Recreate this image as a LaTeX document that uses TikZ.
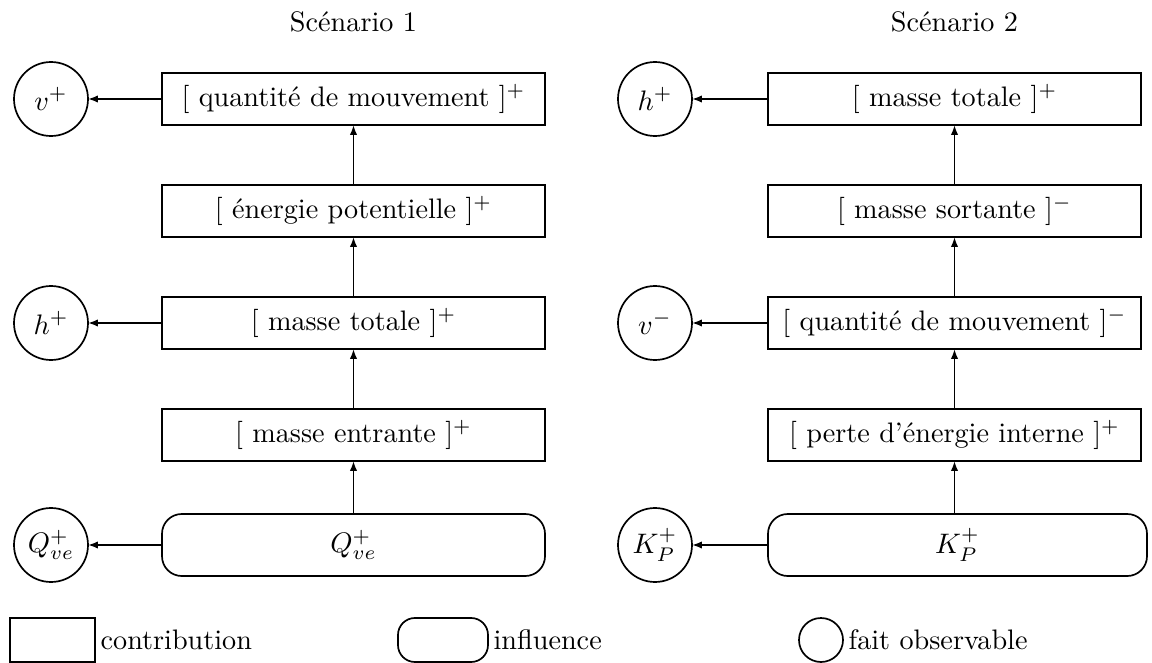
\documentclass[tikz,border=0pt]{standalone}
\usetikzlibrary{arrows.meta}
\begin{document}
\begin{tikzpicture}[x=0.3545pt,y=-0.3545pt,
  every node/.style={font=\normalsize,outer sep=0pt,inner sep=0pt},
  lbox/.style={draw,line width=0.6pt,minimum width={383*0.3545pt},minimum height={52*0.3545pt}},
  rbox/.style={draw,line width=0.6pt,minimum width={373*0.3545pt},minimum height={52*0.3545pt}},
  lround/.style={draw,line width=0.6pt,rounded corners=7pt,minimum width={383*0.3545pt},minimum height={62*0.3545pt}},
  rround/.style={draw,line width=0.6pt,rounded corners=7pt,minimum width={379*0.3545pt},minimum height={62*0.3545pt}},
  fact/.style={draw,circle,line width=0.6pt,minimum size={74*0.3545pt}},
  arr/.style={line width=0.6pt,-{Latex[length=3.5pt,width=2.6pt]}}]
\useasboundingbox (0,0) rectangle (1152,663);
% titles
\node (t1) at (353.5,22) {Scénario 1};
\node (t2) at (954.5,22) {Scénario 2};
% scenario 1
\node[lbox] (a1) at (353.5,99) {[ quantité de mouvement ]$^+$};
\node[lbox] (a2) at (353.5,211) {[ énergie potentielle ]$^+$};
\node[lbox] (a3) at (353.5,323) {[ masse totale ]$^+$};
\node[lbox] (a4) at (353.5,435) {[ masse entrante ]$^+$};
\node[lround] (a5) at (353.5,545) {$Q^+_{ve}$};
\node[fact] (ca1) at (51,99) {$v^+$};
\node[fact] (ca3) at (51,323) {$h^+$};
\node[fact] (ca5) at (51,545) {$Q^+_{ve}$};
\draw[arr] (a5.north) -- (a4.south);
\draw[arr] (a4.north) -- (a3.south);
\draw[arr] (a3.north) -- (a2.south);
\draw[arr] (a2.north) -- (a1.south);
\draw[arr] (a1.west) -- (ca1.east);
\draw[arr] (a3.west) -- (ca3.east);
\draw[arr] (a5.west) -- (ca5.east);
% scenario 2
\node[rbox] (b1) at (954.5,99) {[ masse totale ]$^+$};
\node[rbox] (b2) at (954.5,211) {[ masse sortante ]$^-$};
\node[rbox] (b3) at (954.5,323) {[ quantité de mouvement ]$^-$};
\node[rbox] (b4) at (954.5,435) {[ perte d'énergie interne ]$^+$};
\node[rround] (b5) at (957.5,545) {$K^+_P$};
\node[fact] (cb1) at (655,99) {$h^+$};
\node[fact] (cb3) at (655,323) {$v^-$};
\node[fact] (cb5) at (655,545) {$K^+_P$};
\draw[arr] (b5.north -| b4.south) -- (b4.south);
\draw[arr] (b4.north) -- (b3.south);
\draw[arr] (b3.north) -- (b2.south);
\draw[arr] (b2.north) -- (b1.south);
\draw[arr] (b1.west) -- (cb1.east);
\draw[arr] (b3.west) -- (cb3.east);
\draw[arr] (b5.west) -- (cb5.east);
% legend
\node[draw,line width=0.6pt,minimum width={85*0.3545pt},minimum height={44*0.3545pt}] (l1) at (52.5,640) {};
\node[anchor=west] (l1t) at ([xshift=2pt]l1.east) {contribution};
\node[draw,line width=0.6pt,rounded corners=6pt,minimum width={90*0.3545pt},minimum height={44*0.3545pt}] (l2) at (443,640) {};
\node[anchor=west] (l2t) at ([xshift=2pt]l2.east) {influence};
\node[draw,circle,line width=0.6pt,minimum size={44*0.3545pt}] (l3) at (821,640) {};
\node[anchor=west] (l3t) at ([xshift=2pt]l3.east) {fait observable};
\end{tikzpicture}
\end{document}
